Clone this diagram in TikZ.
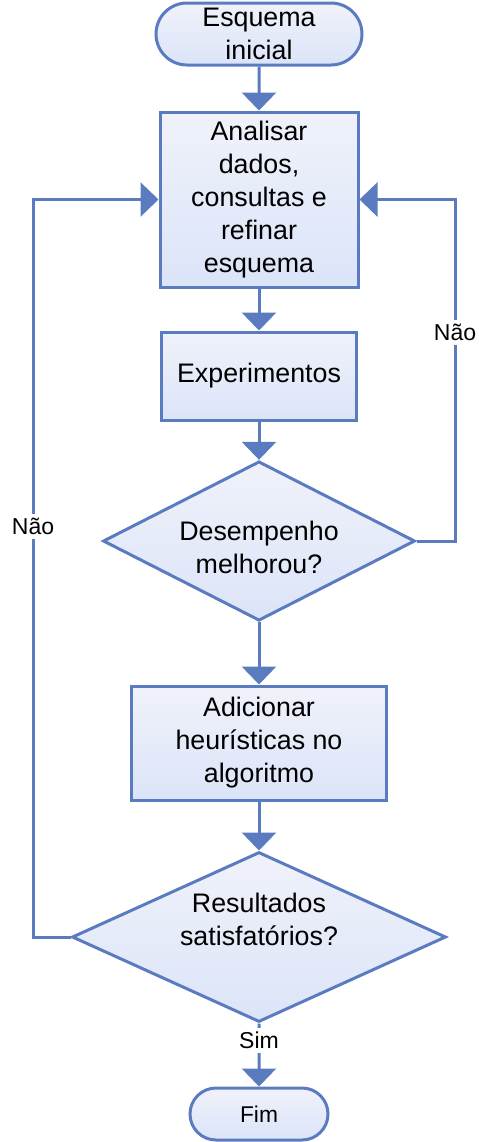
\documentclass[tikz,border=0pt]{standalone}
\usepackage{fontspec}
\setmainfont{Liberation Sans}
\usetikzlibrary{shapes.geometric,shapes.misc,arrows.meta}
\definecolor{linha}{RGB}{91,123,192}
\definecolor{fundoa}{RGB}{240,242,250}
\definecolor{fundob}{RGB}{219,228,248}

\begin{document}
\begin{tikzpicture}
[x=0.5pt, y=-0.5pt,
 every node/.style={font=\fontsize{13.4}{16.5}\selectfont, align=center},
 caixa/.style={rectangle, draw=linha, line width=1.5pt, top color=fundoa, bottom color=fundob, inner sep=0pt},
 decisao/.style={diamond, draw=linha, line width=1.5pt, top color=fundoa, bottom color=fundob, inner sep=0pt},
 terminal/.style={rounded rectangle, draw=linha, line width=1.5pt, top color=fundoa, bottom color=fundob, inner sep=0pt},
 seta/.style={draw=linha, line width=1.5pt, -{Triangle[width=17pt,length=9pt]}},
 rot/.style={fill=white, inner sep=2pt, font=\fontsize{11.5}{13}\selectfont}]
%[every node/.style={draw}]
\useasboundingbox (0,0) rectangle (478,1142);

\node[terminal, minimum width=103pt, minimum height=31pt] (ini) at (259,34) {Esquema\\inicial};
\node[caixa, minimum width=99pt, minimum height=87.5pt] (b1) at (259,199.5) {Analisar\\dados,\\consultas e\\refinar\\esquema};
\node[caixa, minimum width=97.5pt, minimum height=44pt] (b2) at (259,376) {Experimentos};
\node[decisao, minimum width=156pt, minimum height=74pt] (d1) at (259,541)
  {\raisebox{-8.4pt}[0pt][0pt]{\begin{tabular}{@{}c@{}}Desempenho\\melhorou?\end{tabular}}};
\node[caixa, minimum width=127.5pt, minimum height=57pt] (b3) at (259,743) {Adicionar\\heurísticas no\\algoritmo};
\node[decisao, minimum width=187pt, minimum height=85pt] (d2) at (259,937)
  {\raisebox{3.6pt}[0pt][0pt]{\begin{tabular}{@{}c@{}}Resultados\\satisfatórios?\end{tabular}}};
\node[terminal, minimum width=69pt, minimum height=26pt, font=\fontsize{11.4}{13}\selectfont] (fim) at (259,1114) {Fim};

\coordinate (r1) at (455,541);
\coordinate (r2) at (455,199.5);
\coordinate (l1) at (33,937);
\coordinate (l2) at (33,199.5);

\draw[seta] (ini) -- (b1);
\draw[seta] (b1) -- (b2);
\draw[seta] (b2) -- (d1);
\draw[seta] (d1) -- (b3);
\draw[seta] (b3) -- (d2);
\draw[seta] (d2) -- node[rot, pos=0.27]{Sim} (fim);
\draw[seta] (d1.east) -- (r1) -- node[rot, pos=0.61]{Não} (r2) -- (b1.east);
\draw[seta] (d2.west) -- (l1) -- node[rot, pos=0.557]{Não} (l2) -- (b1.west);

\end{tikzpicture}
\end{document}
